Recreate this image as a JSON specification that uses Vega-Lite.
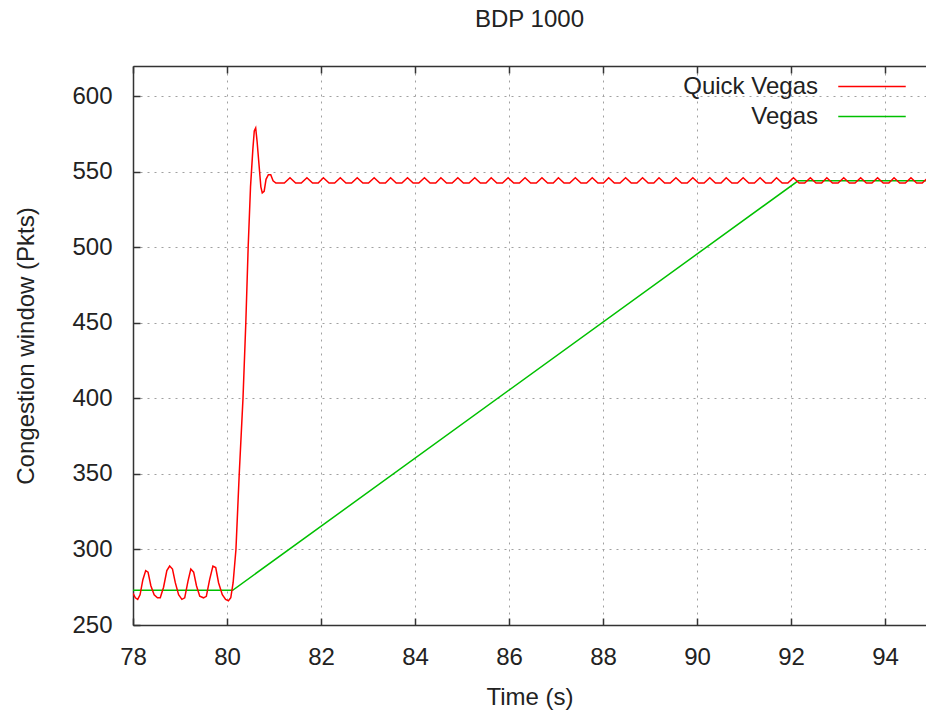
{
 "$schema": "https://vega.github.io/schema/vega-lite/v6.json",
 "width": 793,
 "height": 559,
 "autosize": "none",
 "padding": {"left": 133, "top": 66, "right": 0, "bottom": 86},
 "background": "white",
 "config": {"view": {"stroke": null}, "font": "Liberation Sans"},
 "title": {"text": "BDP 1000", "fontSize": 24, "font": "Liberation Sans", "fontWeight": "normal", "color": "#222", "anchor": "middle", "baseline": "alphabetic", "offset": 14},
 "data": {"values": [
  {"s":"Vegas","t":78,"w":273},{"s":"Vegas","t":80.12,"w":273},{"s":"Vegas","t":92.15,"w":544},{"s":"Vegas","t":94.92,"w":544},
  {"s":"Quick Vegas","t":78.00,"w":271},{"s":"Quick Vegas","t":78.05,"w":268},{"s":"Quick Vegas","t":78.10,"w":267},{"s":"Quick Vegas","t":78.15,"w":270},
  {"s":"Quick Vegas","t":78.21,"w":280},{"s":"Quick Vegas","t":78.27,"w":286},{"s":"Quick Vegas","t":78.32,"w":285},{"s":"Quick Vegas","t":78.38,"w":276},
  {"s":"Quick Vegas","t":78.45,"w":270},{"s":"Quick Vegas","t":78.52,"w":268},{"s":"Quick Vegas","t":78.58,"w":268},{"s":"Quick Vegas","t":78.65,"w":275},
  {"s":"Quick Vegas","t":78.72,"w":286},{"s":"Quick Vegas","t":78.78,"w":289},{"s":"Quick Vegas","t":78.84,"w":287},{"s":"Quick Vegas","t":78.90,"w":278},
  {"s":"Quick Vegas","t":78.97,"w":270},{"s":"Quick Vegas","t":79.04,"w":267},{"s":"Quick Vegas","t":79.10,"w":268},{"s":"Quick Vegas","t":79.17,"w":279},
  {"s":"Quick Vegas","t":79.23,"w":287},{"s":"Quick Vegas","t":79.29,"w":285},{"s":"Quick Vegas","t":79.35,"w":276},{"s":"Quick Vegas","t":79.42,"w":269},
  {"s":"Quick Vegas","t":79.50,"w":268},{"s":"Quick Vegas","t":79.56,"w":269},{"s":"Quick Vegas","t":79.63,"w":280},{"s":"Quick Vegas","t":79.70,"w":289},
  {"s":"Quick Vegas","t":79.76,"w":288},{"s":"Quick Vegas","t":79.82,"w":278},{"s":"Quick Vegas","t":79.90,"w":270},{"s":"Quick Vegas","t":79.97,"w":267},
  {"s":"Quick Vegas","t":80.03,"w":266},{"s":"Quick Vegas","t":80.08,"w":268},{"s":"Quick Vegas","t":80.13,"w":278},{"s":"Quick Vegas","t":80.19,"w":300},
  {"s":"Quick Vegas","t":80.26,"w":350},{"s":"Quick Vegas","t":80.34,"w":400},{"s":"Quick Vegas","t":80.40,"w":450},{"s":"Quick Vegas","t":80.45,"w":500},
  {"s":"Quick Vegas","t":80.50,"w":540},{"s":"Quick Vegas","t":80.55,"w":565},{"s":"Quick Vegas","t":80.58,"w":577},{"s":"Quick Vegas","t":80.61,"w":579},
  {"s":"Quick Vegas","t":80.64,"w":570},{"s":"Quick Vegas","t":80.68,"w":555},{"s":"Quick Vegas","t":80.72,"w":540},{"s":"Quick Vegas","t":80.75,"w":536},
  {"s":"Quick Vegas","t":80.79,"w":537},{"s":"Quick Vegas","t":80.83,"w":545},{"s":"Quick Vegas","t":80.88,"w":548},{"s":"Quick Vegas","t":80.93,"w":548},
  {"s":"Quick Vegas","t":80.98,"w":544},{"s":"Quick Vegas","t":81.04,"w":542.5},{"s":"Quick Vegas","t":81.10,"w":542.5},{"s":"Quick Vegas","t":81.22,"w":542.5},
  {"s":"Quick Vegas","t":81.34,"w":546},{"s":"Quick Vegas","t":81.46,"w":542.5},{"s":"Quick Vegas","t":81.58,"w":542.5},
  {"s":"Quick Vegas","t":81.70,"w":546},{"s":"Quick Vegas","t":81.82,"w":542.5},{"s":"Quick Vegas","t":81.94,"w":542.5},
  {"s":"Quick Vegas","t":82.05,"w":546},{"s":"Quick Vegas","t":82.17,"w":542.5},{"s":"Quick Vegas","t":82.29,"w":542.5},
  {"s":"Quick Vegas","t":82.41,"w":546},{"s":"Quick Vegas","t":82.53,"w":542.5},{"s":"Quick Vegas","t":82.65,"w":542.5},
  {"s":"Quick Vegas","t":82.77,"w":546},{"s":"Quick Vegas","t":82.89,"w":542.5},{"s":"Quick Vegas","t":83.01,"w":542.5},
  {"s":"Quick Vegas","t":83.13,"w":546},{"s":"Quick Vegas","t":83.25,"w":542.5},{"s":"Quick Vegas","t":83.37,"w":542.5},
  {"s":"Quick Vegas","t":83.48,"w":546},{"s":"Quick Vegas","t":83.60,"w":542.5},{"s":"Quick Vegas","t":83.72,"w":542.5},
  {"s":"Quick Vegas","t":83.84,"w":546},{"s":"Quick Vegas","t":83.96,"w":542.5},{"s":"Quick Vegas","t":84.08,"w":542.5},
  {"s":"Quick Vegas","t":84.20,"w":546},{"s":"Quick Vegas","t":84.32,"w":542.5},{"s":"Quick Vegas","t":84.44,"w":542.5},
  {"s":"Quick Vegas","t":84.55,"w":546},{"s":"Quick Vegas","t":84.67,"w":542.5},{"s":"Quick Vegas","t":84.79,"w":542.5},
  {"s":"Quick Vegas","t":84.91,"w":546},{"s":"Quick Vegas","t":85.03,"w":542.5},{"s":"Quick Vegas","t":85.15,"w":542.5},
  {"s":"Quick Vegas","t":85.27,"w":546},{"s":"Quick Vegas","t":85.39,"w":542.5},{"s":"Quick Vegas","t":85.51,"w":542.5},
  {"s":"Quick Vegas","t":85.62,"w":546},{"s":"Quick Vegas","t":85.74,"w":542.5},{"s":"Quick Vegas","t":85.86,"w":542.5},
  {"s":"Quick Vegas","t":85.98,"w":546},{"s":"Quick Vegas","t":86.10,"w":542.5},{"s":"Quick Vegas","t":86.22,"w":542.5},
  {"s":"Quick Vegas","t":86.34,"w":546},{"s":"Quick Vegas","t":86.46,"w":542.5},{"s":"Quick Vegas","t":86.58,"w":542.5},
  {"s":"Quick Vegas","t":86.70,"w":546},{"s":"Quick Vegas","t":86.82,"w":542.5},{"s":"Quick Vegas","t":86.94,"w":542.5},
  {"s":"Quick Vegas","t":87.05,"w":546},{"s":"Quick Vegas","t":87.17,"w":542.5},{"s":"Quick Vegas","t":87.29,"w":542.5},
  {"s":"Quick Vegas","t":87.41,"w":546},{"s":"Quick Vegas","t":87.53,"w":542.5},{"s":"Quick Vegas","t":87.65,"w":542.5},
  {"s":"Quick Vegas","t":87.77,"w":546},{"s":"Quick Vegas","t":87.89,"w":542.5},{"s":"Quick Vegas","t":88.01,"w":542.5},
  {"s":"Quick Vegas","t":88.12,"w":546},{"s":"Quick Vegas","t":88.24,"w":542.5},{"s":"Quick Vegas","t":88.36,"w":542.5},
  {"s":"Quick Vegas","t":88.48,"w":546},{"s":"Quick Vegas","t":88.60,"w":542.5},{"s":"Quick Vegas","t":88.72,"w":542.5},
  {"s":"Quick Vegas","t":88.84,"w":546},{"s":"Quick Vegas","t":88.96,"w":542.5},{"s":"Quick Vegas","t":89.08,"w":542.5},
  {"s":"Quick Vegas","t":89.19,"w":546},{"s":"Quick Vegas","t":89.31,"w":542.5},{"s":"Quick Vegas","t":89.43,"w":542.5},
  {"s":"Quick Vegas","t":89.55,"w":546},{"s":"Quick Vegas","t":89.67,"w":542.5},{"s":"Quick Vegas","t":89.79,"w":542.5},
  {"s":"Quick Vegas","t":89.91,"w":546},{"s":"Quick Vegas","t":90.03,"w":542.5},{"s":"Quick Vegas","t":90.15,"w":542.5},
  {"s":"Quick Vegas","t":90.27,"w":546},{"s":"Quick Vegas","t":90.39,"w":542.5},{"s":"Quick Vegas","t":90.51,"w":542.5},
  {"s":"Quick Vegas","t":90.62,"w":546},{"s":"Quick Vegas","t":90.74,"w":542.5},{"s":"Quick Vegas","t":90.86,"w":542.5},
  {"s":"Quick Vegas","t":90.98,"w":546},{"s":"Quick Vegas","t":91.10,"w":542.5},{"s":"Quick Vegas","t":91.22,"w":542.5},
  {"s":"Quick Vegas","t":91.34,"w":546},{"s":"Quick Vegas","t":91.46,"w":542.5},{"s":"Quick Vegas","t":91.58,"w":542.5},
  {"s":"Quick Vegas","t":91.69,"w":546},{"s":"Quick Vegas","t":91.81,"w":542.5},{"s":"Quick Vegas","t":91.93,"w":542.5},
  {"s":"Quick Vegas","t":92.05,"w":546},{"s":"Quick Vegas","t":92.17,"w":542.5},{"s":"Quick Vegas","t":92.29,"w":542.5},
  {"s":"Quick Vegas","t":92.41,"w":546},{"s":"Quick Vegas","t":92.53,"w":542.5},{"s":"Quick Vegas","t":92.65,"w":542.5},
  {"s":"Quick Vegas","t":92.76,"w":546},{"s":"Quick Vegas","t":92.88,"w":542.5},{"s":"Quick Vegas","t":93.00,"w":542.5},
  {"s":"Quick Vegas","t":93.12,"w":546},{"s":"Quick Vegas","t":93.24,"w":542.5},{"s":"Quick Vegas","t":93.36,"w":542.5},
  {"s":"Quick Vegas","t":93.48,"w":546},{"s":"Quick Vegas","t":93.60,"w":542.5},{"s":"Quick Vegas","t":93.72,"w":542.5},
  {"s":"Quick Vegas","t":93.84,"w":546},{"s":"Quick Vegas","t":93.96,"w":542.5},{"s":"Quick Vegas","t":94.08,"w":542.5},
  {"s":"Quick Vegas","t":94.19,"w":546},{"s":"Quick Vegas","t":94.31,"w":542.5},{"s":"Quick Vegas","t":94.43,"w":542.5},
  {"s":"Quick Vegas","t":94.55,"w":546},{"s":"Quick Vegas","t":94.67,"w":542.5},{"s":"Quick Vegas","t":94.79,"w":542.5},
  {"s":"Quick Vegas","t":94.91,"w":546}
 ]},
 "layer": [
  {
   "mark": {"type": "line", "strokeWidth": 1.5, "clip": true},
   "encoding": {
    "x": {"field": "t", "type": "quantitative", "scale": {"domain": [78, 94.87], "nice": false, "zero": false},
     "axis": {"values": [78,80,82,84,86,88,90,92,94], "format": "d", "grid": true, "gridColor": "#a0a0a0", "gridDash": [2,5], "gridWidth": 1,
      "domainColor": "#333", "domainWidth": 1.5, "tickColor": "#333", "tickWidth": 1.5, "tickSize": -7,
      "labelFontSize": 24, "labelColor": "#222", "labelPadding": 27, "labelFlush": false,
      "title": "Time (s)", "titleFontSize": 24, "titleFontWeight": "normal", "titleColor": "#222", "titlePadding": 16}},
    "y": {"field": "w", "type": "quantitative", "scale": {"domain": [250, 620], "nice": false, "zero": false},
     "axis": {"values": [250,300,350,400,450,500,550,600], "grid": true, "gridColor": "#a0a0a0", "gridDash": [2,5], "gridWidth": 1,
      "domainColor": "#333", "domainWidth": 1.5, "tickColor": "#333", "tickWidth": 1.5, "tickSize": -7,
      "labelFontSize": 24, "labelColor": "#222", "labelPadding": 28, "labelFlush": false,
      "title": "Congestion window (Pkts)", "titleFontSize": 24, "titleFontWeight": "normal", "titleColor": "#222", "titlePadding": 33}},
    "color": {"field": "s", "type": "nominal", "scale": {"domain": ["Quick Vegas", "Vegas"], "range": ["#ff0000", "#00c000"]},
     "legend": {"orient": "none", "legendX": 724.5, "legendY": 6, "title": null, "symbolType": "M-2.5,0H2.5", "symbolSize": 729, "symbolStrokeWidth": 1.5,
      "labelAlign": "right", "labelOffset": -68.5, "labelFontSize": 24, "labelColor": "#222", "rowPadding": 3, "padding": 0, "labelLimit": 0}}
   }
  },
  {
   "mark": {"type": "point", "opacity": 0},
   "encoding": {
    "x": {"field": "t", "type": "quantitative",
     "axis": {"orient": "top", "values": [78,80,82,84,86,88,90,92,94], "labels": false, "grid": false, "title": null,
      "domainColor": "#333", "domainWidth": 1.5, "tickColor": "#333", "tickWidth": 1.5, "tickSize": -7}}
   }
  }
 ],
 "resolve": {"axis": {"x": "independent"}}
}
